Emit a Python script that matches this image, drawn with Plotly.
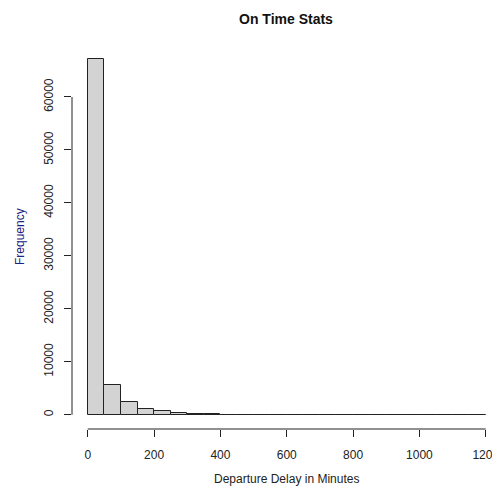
import plotly.graph_objects as go

bin_starts = list(range(0, 1200, 50))
counts = [67200, 5650, 2400, 1080, 680, 300, 220, 90, 50, 30, 20, 15,
          10, 8, 5, 4, 3, 2, 2, 1, 1, 1, 1, 1]
x_ticks = [0, 200, 400, 600, 800, 1000, 1200]
y_ticks = [0, 10000, 20000, 30000, 40000, 50000, 60000]

centers = [s + 25 for s in bin_starts]

fig = go.Figure()
fig.add_trace(go.Bar(
    x=centers, y=counts, width=[50] * len(centers),
    marker=dict(color="#D3D3D3", line=dict(color="#222222", width=1)),
    hoverinfo="x+y",
))

# page body has an 8px margin, so the figure is drawn 8px in from the corner
OFF = 8
font_family = "Liberation Sans, Arial, sans-serif"
fig.update_layout(
    width=500 - OFF, height=489 - OFF,
    margin=dict(l=72 - OFF, r=0, t=45 - OFF, b=60, autoexpand=False),
    plot_bgcolor="white", paper_bgcolor="white",
    showlegend=False,
    bargap=0,
    font=dict(family=font_family, size=12, color="#222222"),
    xaxis=dict(
        range=[-47.5, 1243], tickvals=x_ticks, ticks="outside", ticklen=7,
        tickcolor="#222222", showgrid=False, zeroline=False, showline=False,
        ticklabelstandoff=8, tickfont=dict(size=12), automargin=False,
        tickformat="d",
    ),
    yaxis=dict(
        range=[-2688, 69812], tickvals=y_ticks, ticks="outside", ticklen=7,
        tickcolor="#222222", showgrid=False, zeroline=False, showline=False,
        tickangle=-90, ticklabelstandoff=6, tickfont=dict(size=12),
        automargin=False, tickformat="d",
    ),
    shapes=[
        dict(type="line", xref="x", yref="paper", x0=0, x1=1200, y0=0, y1=0,
             line=dict(color="#222222", width=1)),
        dict(type="line", xref="paper", yref="y", x0=0, x1=0, y0=0, y1=60000,
             line=dict(color="#222222", width=1)),
    ],
    annotations=[
        dict(text="<b>On Time Stats</b>", xref="paper", yref="paper",
             x=(285.6 - 72) / 428, y=1, yshift=45 - OFF - 1, showarrow=False,
             font=dict(size=14, color="#111111"), xanchor="center", yanchor="top"),
        dict(text="Departure Delay in Minutes", xref="paper", yref="paper",
             x=(286 - 72) / 428, y=0, yshift=-(479.5 - 429.3), showarrow=False,
             font=dict(size=12, color="#222222"), xanchor="center", yanchor="middle"),
        dict(text="Frequency", xref="paper", yref="paper",
             x=0, xshift=-(72 - 20), y=0.5, textangle=-90, showarrow=False,
             font=dict(size=12, color="#1a237e"), xanchor="center", yanchor="middle"),
    ],
)

fig.write_html("out.html")
